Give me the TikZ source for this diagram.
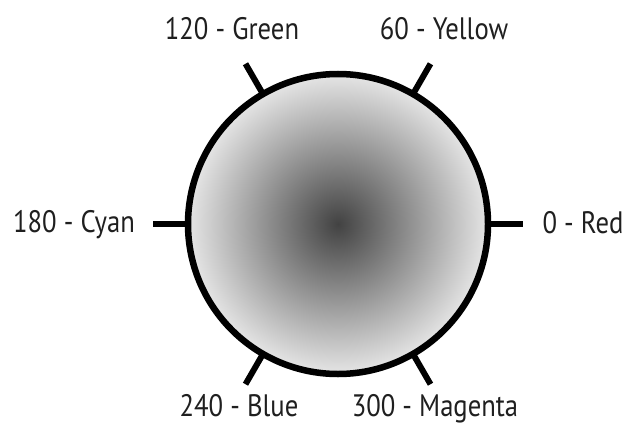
\documentclass[tikz,border=0pt]{standalone}
\usepackage{fontspec}
\setmainfont{PT Sans}[FakeStretch=0.86]
\begin{document}
\begin{tikzpicture}[x=1pt,y=-1pt,
  lbl/.style={font=\fontsize{31}{31}\selectfont, inner sep=0pt, anchor=base, text=black!88},
  tick/.style={line width=6pt, black}]
\useasboundingbox (0,0) rectangle (626,425);
\coordinate (c) at (338,224);
\shade[inner color=black!74, outer color=black!10] (c) circle (150);
\draw[line width=6.5pt] (c) circle (150);
\foreach \a/\n in {0/r,60/y,120/g,180/cy,240/b,300/m}{
  \coordinate (i\n) at ([shift={(\a:150 and -150)}]c);
  \coordinate (o\n) at ([shift={(\a:185 and -185)}]c);
  \draw[tick] (i\n) -- (o\n);
}
\node[lbl] (red) at (583,233) {0 - Red};
\node[lbl] (yellow) at (444,40) {60 - Yellow};
\node[lbl] (green) at (232,40) {120 - Green};
\node[lbl] (cyan) at (74,232) {180 - Cyan};
\node[lbl] (blue) at (239,416) {240 - Blue};
\node[lbl] (magenta) at (435,416) {300 - Magenta};
\end{tikzpicture}
\end{document}
